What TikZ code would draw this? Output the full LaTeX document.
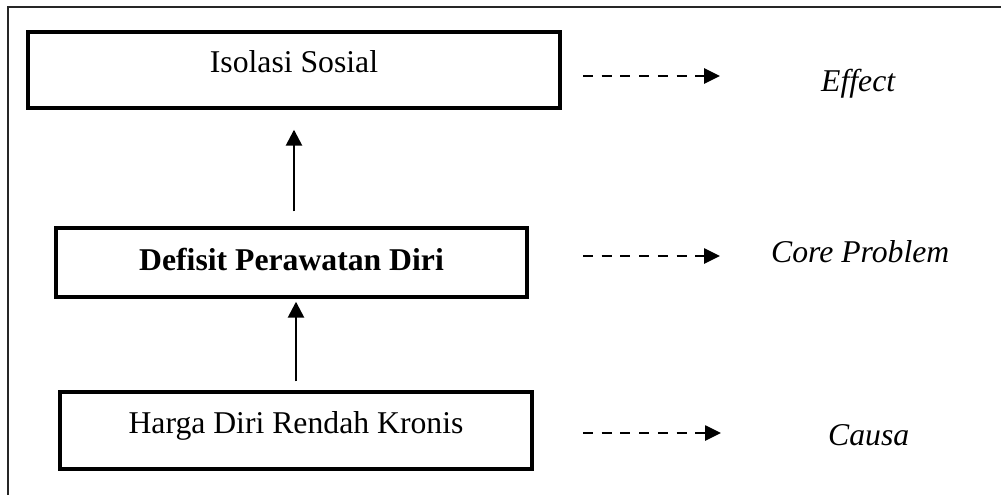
\documentclass[tikz,border=0pt]{standalone}
\usepackage{fontspec}
\setmainfont{Liberation Serif}
\usetikzlibrary{arrows.meta}
\tikzset{
  box/.style={draw, line width=3.4pt, rectangle, inner sep=0pt,
    font=\fontsize{31.7}{38}\selectfont},
  uparrow/.style={line width=2.6pt, -{Triangle[length=16pt,width=16pt]}},
  sidearrow/.style={line width=2.6pt, dash pattern=on 10pt off 8.7pt,
    -{Triangle[length=16pt,width=15pt]}},
  tag/.style={anchor=base west, inner sep=0pt,
    font=\fontsize{31.7}{38}\selectfont\itshape},
  frame/.style={draw=black!85, line width=2.4pt}
}
\begin{document}
\begin{tikzpicture}[x=1pt,y=-1pt]
  \useasboundingbox (0,0) rectangle (1001,495);
  % open page frame
  \draw[frame] (8,495) -- (8,7) -- (1001,7);

  % the three stacked boxes
  \node[box, minimum width=532pt, minimum height=76pt,
        text height=20pt, text depth=15.4pt] (iso) at (294,70) {Isolasi Sosial};
  \node[box, minimum width=471pt, minimum height=69pt,
        text height=22pt, text depth=7pt] (def) at (291.5,262.5) {\bfseries Defisit Perawatan Diri};
  \node[box, minimum width=472pt, minimum height=77pt,
        text height=20pt, text depth=15pt] (har) at (296,430.5) {Harga Diri Rendah Kronis};

  % upward arrows between the boxes
  \draw[uparrow, shorten <=15pt, shorten >=20pt] (def.north -| iso.south) -- (iso.south);
  \draw[uparrow, shorten <=9pt, shorten >=3pt] (har.north) -- (def.south -| har.north);

  % dashed pointers and their labels
  \coordinate (a1) at (583,76);  \coordinate (b1) at (720,76);
  \coordinate (a2) at (583,256); \coordinate (b2) at (720,256);
  \coordinate (a3) at (583,433); \coordinate (b3) at (721,433);
  \draw[sidearrow] (a1) -- (b1);
  \draw[sidearrow] (a2) -- (b2);
  \draw[sidearrow] (a3) -- (b3);

  \node[tag] (eff) at (821,92) {Effect};
  \node[tag] (core) at (771,262) {Core Problem};
  \node[tag] (cau) at (828,445) {Causa};
\end{tikzpicture}
\end{document}
